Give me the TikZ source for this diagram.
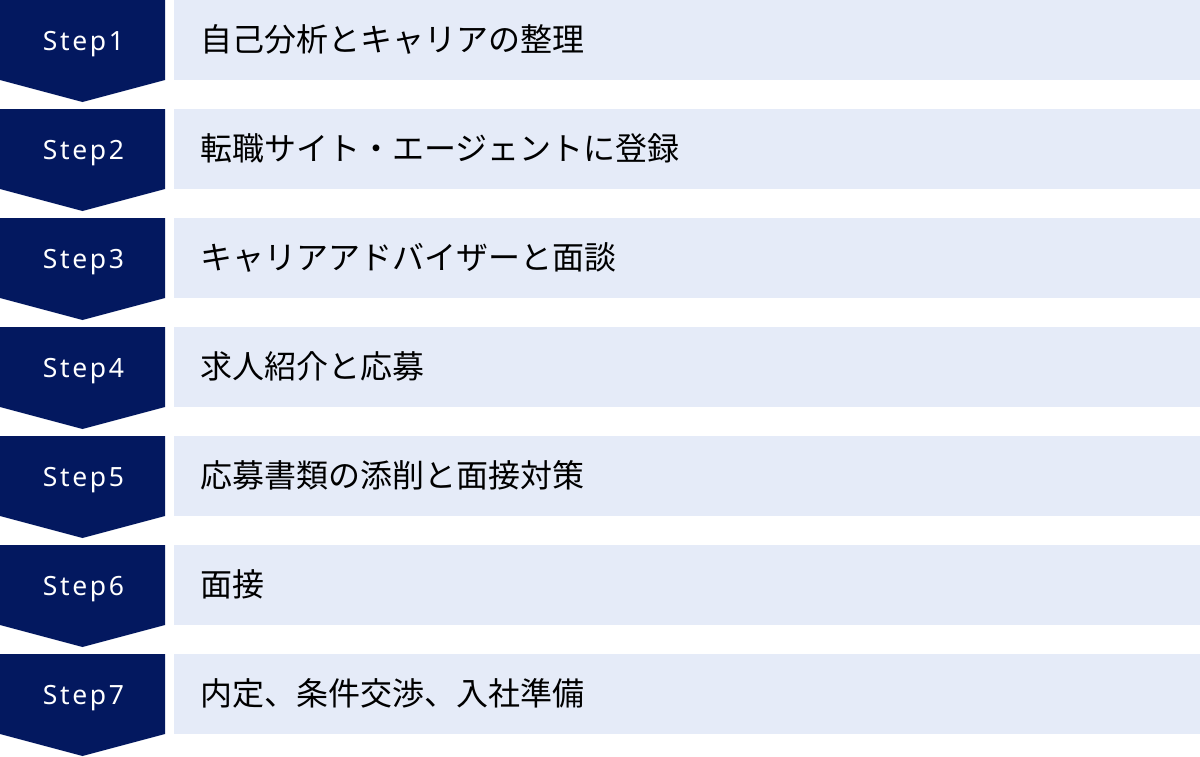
\documentclass[tikz,border=0pt]{standalone}
\usepackage{fontspec}
\setmainfont{Noto Sans}
\newfontfamily\jpfont{Noto Sans CJK JP}
\newfontfamily\stepfont[LetterSpace=10]{Noto Sans}
\definecolor{navy}{HTML}{03185F}
\definecolor{pale}{HTML}{E5EBF8}
\begin{document}
\begin{tikzpicture}[x=1pt,y=-1pt,
  chev/.style={fill=navy,draw=none},
  bar/.style={fill=pale,draw=none},
  steplabel/.style={text=white,font=\stepfont\fontsize{26.5}{26.5}\selectfont,anchor=base,inner sep=0pt},
  desc/.style={text=black,font=\jpfont\fontsize{32}{32}\selectfont,anchor=base west,inner sep=0pt}]
\useasboundingbox (0,0) rectangle (1200,756);
\foreach \i/\t in {1/自己分析とキャリアの整理,2/転職サイト・エージェントに登録,3/キャリアアドバイザーと面談,4/求人紹介と応募,5/応募書類の添削と面接対策,6/面接,7/内定、条件交渉、入社準備}{
  \pgfmathsetmacro{\y}{109*(\i-1)}
  \fill[chev] (0,\y) -- (165,\y) -- (165,\y+80) -- (82.5,\y+102) -- (0,\y+80) -- cycle;
  \fill[bar] (174,\y) rectangle (1200,\y+80);
  \node[steplabel] (s\i) at (83.5,\y+50) {Step\i};
  \node[desc] (d\i) at (200,\y+51) {\t};
}
\end{tikzpicture}
\end{document}
